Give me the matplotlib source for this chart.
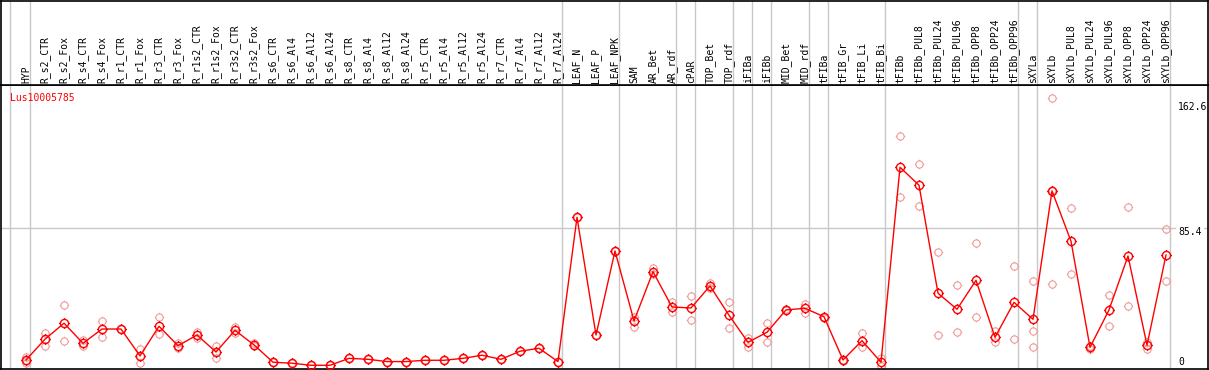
import numpy as np
import matplotlib.pyplot as plt
from matplotlib.path import Path
from matplotlib.transforms import blended_transform_factory

# 샘플 이름 (컬럼 순서대로)
labels = ['HYP', 'R_s2_CTR', 'R_s2_Fox', 'R_s4_CTR', 'R_s4_Fox', 'R_r1_CTR', 'R_r1_Fox',
          'R_r3_CTR', 'R_r3_Fox', 'R_r1s2_CTR', 'R_r1s2_Fox', 'R_r3s2_CTR', 'R_r3s2_Fox',
          'R_s6_CTR', 'R_s6_Al4', 'R_s6_Al12', 'R_s6_Al24', 'R_s8_CTR', 'R_s8_Al4',
          'R_s8_Al12', 'R_s8_Al24', 'R_r5_CTR', 'R_r5_Al4', 'R_r5_Al12', 'R_r5_Al24',
          'R_r7_CTR', 'R_r7_Al4', 'R_r7_Al12', 'R_r7_Al24', 'LEAF_N', 'LEAF_P', 'LEAF_NPK',
          'SAM', 'AR_Bet', 'AR_rdf', 'cPAR', 'TOP_Bet', 'TOP_rdf', 'iFIBa', 'iFIBb',
          'MID_Bet', 'MID_rdf', 'tFIBa', 'tFIB_Gr', 'tFIB_Li', 'tFIB_Bi', 'tFIBb',
          'tFIBb_PUL8', 'tFIBb_PUL24', 'tFIBb_PUL96', 'tFIBb_OPP8', 'tFIBb_OPP24',
          'tFIBb_OPP96', 'sXYLa', 'sXYLb', 'sXYLb_PUL8', 'sXYLb_PUL24', 'sXYLb_PUL96',
          'sXYLb_OPP8', 'sXYLb_OPP24', 'sXYLb_OPP96']

# 그룹 크기 (세로 구분선 위치)
group_sizes = [1, 28, 3, 3, 1, 2, 1, 1, 2, 1, 3, 7, 1, 7]

# 평균값
means = [3.9, 16.7, 26.6, 14.2, 23.0, 23.0, 6.4, 24.7, 12.7, 19.3, 8.8, 22.2, 13.2,
         2.5, 1.9, 0.6, 0.6, 4.9, 4.3, 2.9, 2.9, 3.7, 3.7, 4.9, 6.8, 4.3, 9.3, 11.1, 2.9,
         92.0, 19.3, 71.2, 28.0, 58.4, 36.6, 36.0, 49.6, 31.5, 14.8, 21.0, 34.8, 35.8,
         30.6, 3.9, 15.8, 2.5, 122.9, 111.8, 45.1, 35.2, 53.1, 17.9, 39.5, 29.0, 108.3,
         77.2, 11.7, 34.8, 68.1, 13.0, 68.7]

# 반복 측정값
reps = [[5.9, 1.9, 3.3], [20.4, 12.7], [37.7, 15.4], [16.2, 12.7], [28.0, 17.9],
        [23.0], [10.7, 2.2], [30.5, 19.8], [14.2, 11.1], [21.4, 17.3], [12.7, 4.9],
        [24.5, 20.4], [14.6, 12.5], [2.5], [1.9], [0.6], [0.6], [4.9], [4.3], [2.9],
        [2.9], [3.7], [3.7], [4.9], [6.8], [4.3], [9.3], [11.1], [2.9],
        [92.0], [19.3], [71.2], [30.6, 24.5], [60.5, 56.8], [39.9, 33.4], [43.4, 28.6],
        [51.3, 48.2], [39.5, 23.5], [17.7, 12.1], [26.6, 15.2], [34.8, 35.5],
        [38.5, 33.1], [30.6, 30.0], [3.9, 3.0], [20.4, 11.7], [4.9, 0.4],
        [142.2, 104.4], [124.8, 98.8], [70.6, 19.1], [50.0, 21.0], [76.2, 30.5],
        [21.6, 14.8], [61.8, 16.9], [52.7, 21.6, 11.9], [165.5, 50.6, 108.8],
        [97.6, 57.0], [12.5, 10.8], [44.0, 24.7], [98.2, 37.1], [15.2, 10.5],
        [84.8, 52.7]]

tick_vals = [0, 85.4, 162.6]
grid_vals = [85.4]
gene = 'Lus10005785'

plt.rcParams['font.family'] = 'DejaVu Sans Mono'

# 십자 표시가 붙은 원 마커
ticks = Path([(0, 1), (0, 1.3), (0, -1), (0, -1.3), (1, 0), (1.3, 0), (-1, 0), (-1.3, 0)],
             [Path.MOVETO, Path.LINETO] * 4)
mk = Path.make_compound_path(Path.unit_circle(), ticks)

W, H = 1209, 370
fig = plt.figure(figsize=(W / 100, H / 100), dpi=100)
x0, x1 = -1.316, 62.21
top_px = 85
ax = fig.add_axes([1 / W, 1.3 / H, 1207 / W, (H - top_px - 1.3) / H])
hx = fig.add_axes([1 / W, (H - top_px) / H, 1207 / W, (top_px - 0.5) / H])

x = np.arange(len(labels))
seps = [-0.82] + list(np.cumsum(group_sizes) - 1 + 0.23)

for a in (ax, hx):
    a.set_xlim(x0, x1)
    a.set_xticks([])
    a.set_yticks([])
    for s in seps:
        a.axvline(s, color='#c8c8c8', lw=1, zorder=0)
    for sp in a.spines.values():
        sp.set_color('black')
        sp.set_linewidth(1.2)

hx.set_ylim(0, 1)
tr = blended_transform_factory(hx.transData, hx.transAxes)
for i, lab in enumerate(labels):
    hx.text(i, 0.025, lab, rotation=90, ha='center', va='bottom', fontsize=7,
            transform=tr)

ax.set_ylim(-1.5, 173.7)
for g in grid_vals:
    ax.axhline(g, color='#c8c8c8', lw=1, zorder=0)

for i, r in enumerate(reps):
    ax.plot([i] * len(r), r, ls='none', marker=mk, mfc='none', mec='#f09a9a',
            ms=6.8, mew=0.8, zorder=2)
ax.plot(x, means, color='red', lw=1, marker=mk, mfc='none', mec='red',
        ms=7.6, mew=1.0, zorder=3)

xt = 60.63
offs = [3, -3, -3]
for v, o in zip(tick_vals, offs):
    box = dict(facecolor='white', edgecolor='none', pad=1.5) if v in grid_vals else None
    ax.annotate(f'{v:g}', (xt, v), xytext=(0, o), textcoords='offset points',
                ha='left', va='center', fontsize=7, bbox=box, zorder=1)

ax.annotate(gene, (-0.84, 1), xycoords=('data', 'axes fraction'), xytext=(0, -9),
            textcoords='offset points', ha='left', va='center', fontsize=7, color='red')

fig.savefig('out.png', dpi=100)
